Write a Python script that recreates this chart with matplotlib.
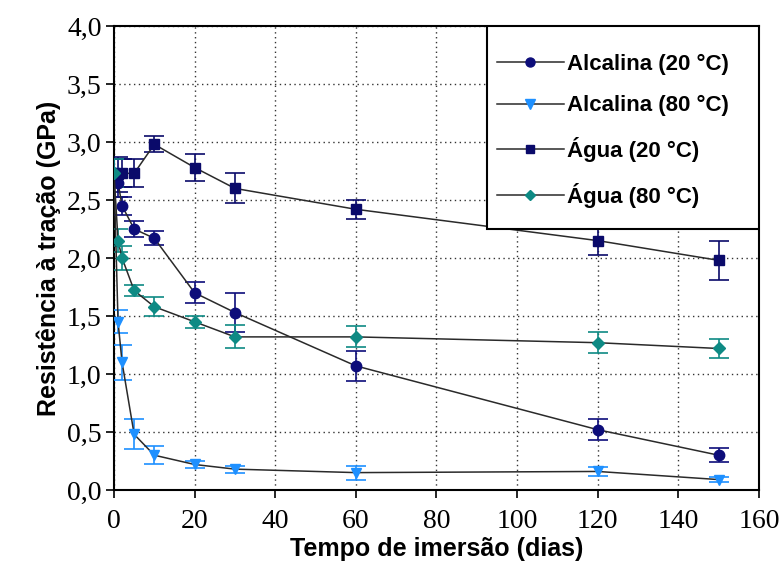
import matplotlib
matplotlib.use("Agg")
import matplotlib.pyplot as plt
from matplotlib.lines import Line2D
from matplotlib.patches import Rectangle
from matplotlib.ticker import FuncFormatter, MultipleLocator

dias = [0, 1, 2, 5, 10, 20, 30, 60, 120, 150]

alc20 = [2.73, 2.65, 2.45, 2.25, 2.17, 1.70, 1.53, 1.07, 0.52, 0.30]
alc20_err = [0.12, 0.12, 0.08, 0.07, 0.06, 0.09, 0.17, 0.13, 0.09, 0.06]

alc80 = [2.73, 1.45, 1.10, 0.48, 0.30, 0.22, 0.18, 0.15, 0.16, 0.09]
alc80_err = [0.12, 0.10, 0.15, 0.13, 0.08, 0.03, 0.03, 0.06, 0.04, 0.02]

agua20 = [2.73, 2.72, 2.73, 2.73, 2.98, 2.78, 2.60, 2.42, 2.15, 1.98]
agua20_err = [0.12, 0.15, 0.12, 0.12, 0.07, 0.12, 0.13, 0.08, 0.12, 0.17]

agua80 = [2.73, 2.15, 2.00, 1.72, 1.58, 1.45, 1.32, 1.32, 1.27, 1.22]
agua80_err = [0.12, 0.10, 0.10, 0.05, 0.08, 0.05, 0.10, 0.09, 0.09, 0.08]

labels = ["Alcalina (20 °C)", "Alcalina (80 °C)", "Água (20 °C)", "Água (80 °C)"]
valores = [alc20, alc80, agua20, agua80]
erros = [alc20_err, alc80_err, agua20_err, agua80_err]
marcadores = ["o", "v", "s", "D"]
cores = ["#0d0d7a", "#1e90ff", "#0a0a6a", "#0e8a84"]
tamanhos = [7.5, 7.5, 7, 6.5]

fig = plt.figure(figsize=(7.83, 5.68), dpi=100)
ax = fig.add_axes([0.1456, 0.1373, 0.8237, 0.8169])

handles = []
for lab, y, err, mk, col, ms in zip(labels, valores, erros, marcadores, cores, tamanhos):
    ax.errorbar(dias, y, yerr=err, color="#2a2a2a", lw=1.1,
                marker=mk, mfc=col, mec=col, ms=ms,
                ecolor=col, elinewidth=1.2, capsize=7, capthick=1.2, zorder=3)
    handles.append(Line2D([], [], color="#2a2a2a", lw=1.1, marker=mk,
                          mfc=col, mec=col, ms=ms - 1, label=lab))

ax.set_xlim(0, 160)
ax.set_ylim(0, 4.0)
ax.xaxis.set_major_locator(MultipleLocator(20))
ax.yaxis.set_major_locator(MultipleLocator(0.5))
ax.yaxis.set_major_formatter(FuncFormatter(lambda v, p: f"{v:.1f}".replace(".", ",")))
ax.grid(True, linestyle=(0, (1, 2.5)), color="#333333", lw=1)
ax.tick_params(direction="out", length=6, width=1.2, labelsize=20, pad=3)
ax.tick_params(axis="x", pad=8)
for t in ax.get_xticklabels() + ax.get_yticklabels():
    t.set_family("Liberation Serif")
for sp in ax.spines.values():
    sp.set_linewidth(1.5)

ax.set_xlabel("Tempo de imersão (dias)", family="Liberation Sans",
              fontweight="bold", fontsize=18, labelpad=2)
ax.set_ylabel("Resistência à tração (GPa)", family="Liberation Sans",
              fontweight="bold", fontsize=18, labelpad=4)

# legend box
ax.add_patch(Rectangle((0.578, 0.5625), 0.422, 0.4375, transform=ax.transAxes,
                       facecolor="white", edgecolor="black", lw=1.5, zorder=5))
leg = ax.legend(handles=handles, loc="upper left", bbox_to_anchor=(0.58, 0.96),
                frameon=False, borderaxespad=0, borderpad=0.4,
                prop={"family": "Liberation Sans", "weight": "bold", "size": 16},
                handlelength=3.0, labelspacing=0.93, handletextpad=0.15)
leg.set_zorder(6)

fig.savefig("out.png", dpi=100)
